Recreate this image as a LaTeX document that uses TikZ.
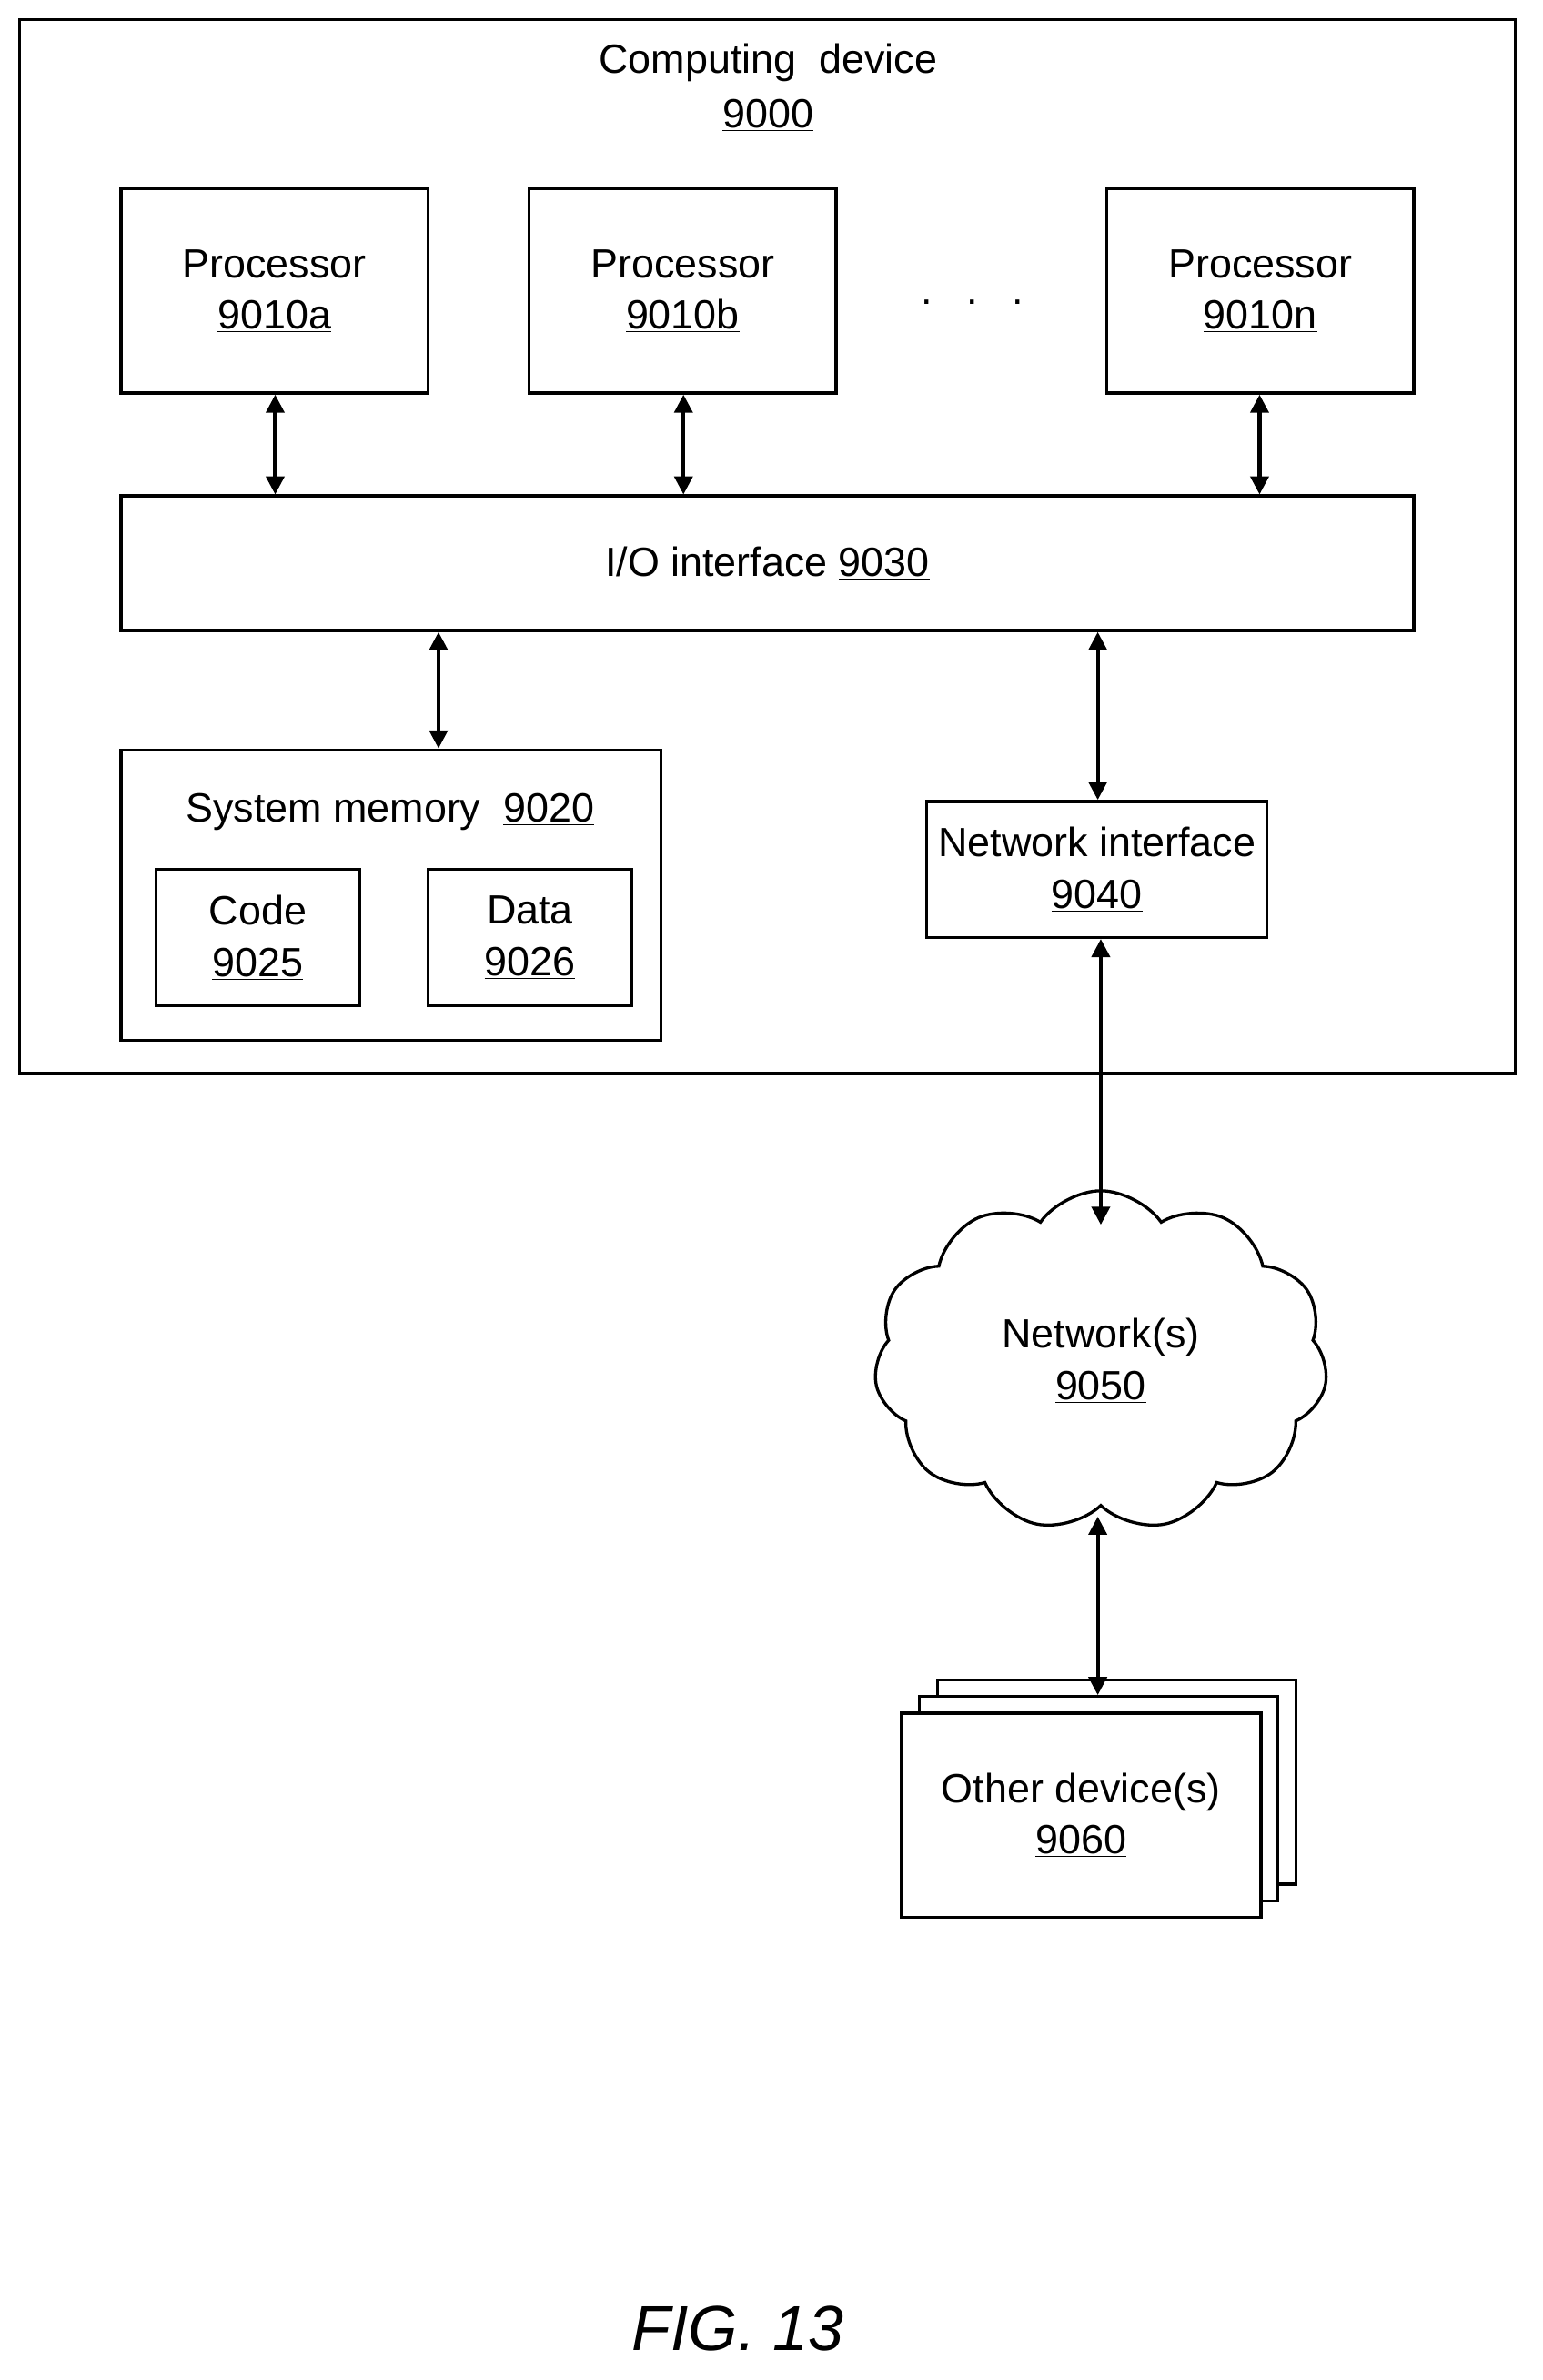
\documentclass[tikz,border=0pt]{standalone}
\usepackage{fontspec}
\setmainfont{Liberation Sans}
\usetikzlibrary{arrows.meta,positioning,shapes.symbols}

\begin{document}
\begin{tikzpicture}[x=1pt,y=-1pt, >={Triangle[length=12pt,width=12pt]},
  box/.style={draw,line width=2pt,align=center,font=\fontsize{27}{34}\selectfont},
  link/.style={<->,line width=2.5pt}]
%%
  \useasboundingbox (0,0) rectangle (1020,1574);
  \draw[line width=2pt] (13,13) rectangle (1002,710);
  \node (dev) at (508,58) [align=center,font=\fontsize{27}{36}\selectfont] {Computing\ \ device\\\underline{9000}};
  \node (pa) at (181.5,192.5) [box,minimum width=203pt,minimum height=135pt] {Processor\\\underline{9010a}};
  \node (pb) at (451.5,192.5) [box,minimum width=203pt,minimum height=135pt] {Processor\\\underline{9010b}};
  \node (pn) at (833.5,192.5) [box,minimum width=203pt,minimum height=135pt] {Processor\\\underline{9010n}};
  \node (dots) at (643,200) [font=\fontsize{27}{34}\selectfont] {.\ \ \ .\ \ \ .};
  \node (io) at (507.5,372.5) [box,minimum width=855pt,minimum height=89pt] {I/O interface \underline{9030}};
  \node (mem) at (258.5,592) [draw,line width=2pt,minimum width=357pt,minimum height=192pt] {};
  \node (memt) at (258,537) [font=\fontsize{27}{34}\selectfont] {System memory\ \ \underline{9020}};
  \node (code) at (170.5,620) [box,minimum width=135pt,minimum height=90pt] {Code\\\underline{9025}};
  \node (data) at (350.5,620) [box,minimum width=135pt,minimum height=90pt] {Data\\\underline{9026}};
  \node (nic) at (725.5,575) [box,minimum width=225pt,minimum height=90pt] {Network interface\\\underline{9040}};
  \node (net) at (728,900) [cloud,cloud puffs=11,cloud puff arc=110,draw,line width=2pt,
    minimum width=300pt,minimum height=225pt,align=center,font=\fontsize{27}{34}\selectfont] {Network(s)\\\underline{9050}};
  \draw[line width=2pt,fill=white] (620,1111) rectangle (857,1246);
  \draw[line width=2pt,fill=white] (608,1122) rectangle (845,1257);
  \node (oth) at (715,1200.5) [box,fill=white,minimum width=238pt,minimum height=135pt] {Other device(s)\\\underline{9060}};
  \node (fig) at (488,1540) [font=\itshape\fontsize{42}{50}\selectfont] {FIG. 13};
  \foreach \p/\x in {pa/182,pb/452,pn/833}
    \draw[link] (\p.south -| \x,0) -- (io.north -| \x,0);
  \draw[link] (io.south -| 290,0) -- (mem.north -| 290,0);
  \draw[link] (io.south -| 726,0) -- (nic.north -| 726,0);
  \draw[link] (nic.south -| 728,0) -- (728,810);
  \draw[link] (726,1003) -- (726,1121);
%
\end{tikzpicture}
\end{document}
